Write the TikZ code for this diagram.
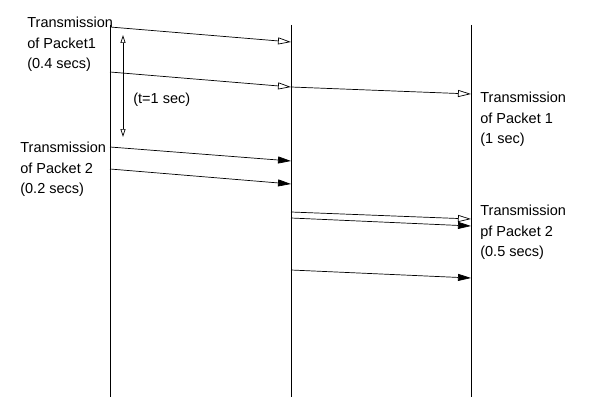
\documentclass[tikz,border=0pt]{standalone}
\usepackage{fontspec}
\setmainfont{Liberation Sans}
\usepackage{tikz}
\usetikzlibrary{arrows.meta}
\usetikzlibrary{positioning}

\begin{document}
\begin{tikzpicture}
        [ x=1pt, y=-1pt, line width=0.7pt
        , every node/.style={inner sep=0, font=\fontsize{14.5}{20.3}\selectfont}
        , lbl/.style={anchor=north west, align=left}
        , msg/.style={-{Triangle[length=13pt, width=7pt]}}
        , omsg/.style={-{Triangle[open, length=13pt, width=7pt]}}
        , span/.style={{Triangle[open, length=8pt, width=5pt]}-{Triangle[open, length=8pt, width=5pt]}}
        ]
        \useasboundingbox (0,0) rectangle (597,420);
        % lifelines
        \coordinate (sender top) at (110,25);
        \coordinate (sender bot) at (110,397);
        \coordinate (router top) at (291,25);
        \coordinate (router bot) at (291,397);
        \coordinate (recv top) at (471,25);
        \coordinate (recv bot) at (471,397);
        \draw (sender top) -- (sender bot);
        \draw (router top) -- (router bot);
        \draw (recv top) -- (recv bot);
        % message ends
        \coordinate (s1) at (110,27);  \coordinate (r1) at (291,42);
        \coordinate (s2) at (110,72);  \coordinate (r2) at (291,87);
        \coordinate (s3) at (110,147); \coordinate (r3) at (291,161);
        \coordinate (s4) at (110,169); \coordinate (r4) at (291,184);
        \coordinate (r5) at (291,212); \coordinate (d2) at (471,219);
        \coordinate (r6) at (291,218); \coordinate (d3) at (471,226);
        \coordinate (r7) at (291,270); \coordinate (d4) at (471,278);
        \coordinate (d1) at (471,94);
        \draw[omsg] (s1) -- (r1);
        \draw[omsg] (s2) -- (r2);
        \draw[omsg] (r2) -- (d1);
        \draw[msg] (s3) -- (r3);
        \draw[msg] (s4) -- (r4);
        \draw[omsg] (r5) -- (d2);
        \draw[msg] (r6) -- (d3);
        \draw[msg] (r7) -- (d4);
        % interval
        \coordinate (gap top) at (123,35);
        \coordinate (gap bot) at (123,137);
        \draw[span] (gap top) -- (gap bot);
        \node[anchor=base west] (gap) at (133,103) {(t=1 sec)};
        % labels
        \node[lbl] (tx1) at (27,17) {Transmission\\of Packet1\\(0.4 secs)};
        \node[lbl] (tx2) at (20,142) {Transmission\\of Packet 2\\(0.2 secs)};
        \node[lbl] (rx1) at (480,92) {Transmission\\of Packet 1\\(1 sec)};
        \node[lbl] (rx2) at (480,205) {Transmission\\pf Packet 2\\(0.5 secs)};
\end{tikzpicture}
\end{document}
